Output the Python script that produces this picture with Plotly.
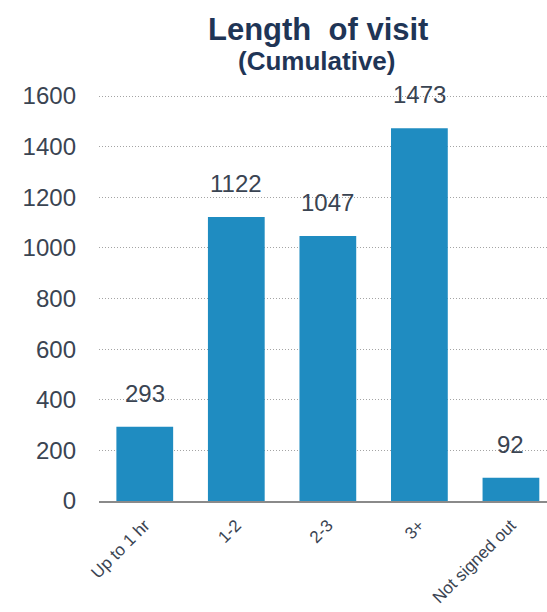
import plotly.graph_objects as go

# Visit-length buckets and visitor counts
categories = ["Up to 1 hr", "1-2", "2-3", "3+", "Not signed out"]
counts = [293, 1122, 1047, 1473, 92]
y_ticks = [0, 200, 400, 600, 800, 1000, 1200, 1400, 1600]

FONT = "Liberation Sans, Arial, sans-serif"
BAR_COLOR = "#1F8CC1"
TEXT_COLOR = "#3A4452"
TITLE_COLOR = "#1F3556"

fig = go.Figure(
    go.Bar(
        x=list(range(len(categories))),
        y=counts,
        marker=dict(color=BAR_COLOR, line=dict(width=0)),
        hoverinfo="skip",
    )
)

# Value labels floating above each bar
for i, v in enumerate(counts):
    fig.add_annotation(
        x=i, y=v, text=str(v), showarrow=False,
        xref="x", yref="y", yanchor="bottom", yshift=18,
        font=dict(family=FONT, size=24, color=TEXT_COLOR),
    )

# Two-line heading
fig.add_annotation(
    x=0.489, y=1.148, xref="paper", yref="paper",
    text="<b>Length  of visit</b>", showarrow=False,
    xanchor="center", yanchor="middle",
    font=dict(family=FONT, size=31, color=TITLE_COLOR),
)
fig.add_annotation(
    x=0.485, y=1.071, xref="paper", yref="paper",
    text="<b>(Cumulative)</b>", showarrow=False,
    xanchor="center", yanchor="middle",
    font=dict(family=FONT, size=26, color=TITLE_COLOR),
)

fig.update_layout(
    width=547, height=612,
    margin=dict(l=99, r=0, t=90, b=111),
    paper_bgcolor="white", plot_bgcolor="white",
    bargap=0.38,
    showlegend=False,
    font=dict(family=FONT, color=TEXT_COLOR),
)

fig.update_xaxes(
    tickmode="array",
    tickvals=list(range(len(categories))),
    ticktext=categories,
    tickangle=-45,
    tickfont=dict(family=FONT, size=17, color=TEXT_COLOR),
    range=[-0.5, 4.394],
    showline=True, linecolor="#8A8A8A", linewidth=1.5,
    showgrid=False, ticks="", zeroline=False,
    ticklabelstandoff=6,
    automargin=False,
)

fig.update_yaxes(
    tickmode="array",
    tickvals=y_ticks,
    ticktext=[str(t) for t in y_ticks],
    tickfont=dict(family=FONT, size=24, color=TEXT_COLOR),
    range=[0, 1623.7],
    showgrid=True, gridcolor="#A4A4A4", gridwidth=1, griddash="1px,2px",
    zeroline=False, showline=False, ticks="",
    ticklabelstandoff=22,
    automargin=False,
)

fig.write_html("out.html")
